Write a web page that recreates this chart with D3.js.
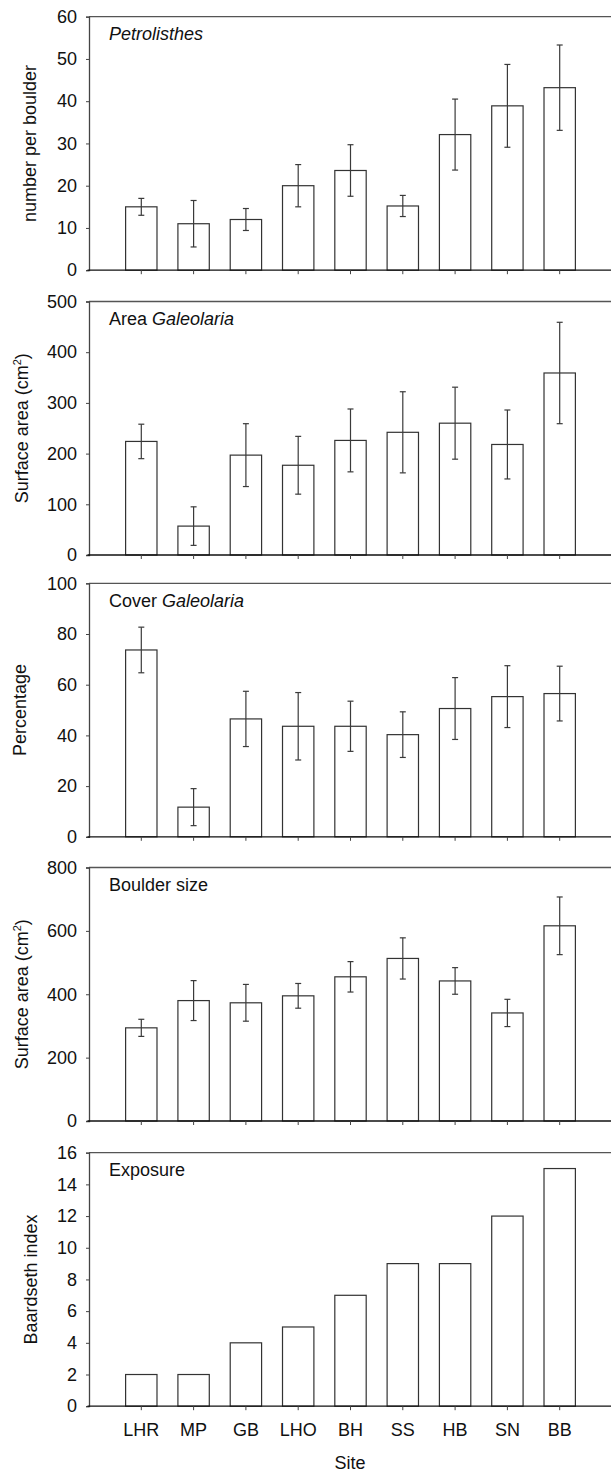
<!DOCTYPE html>
<html>
<head>
<meta charset="utf-8">
<script src="https://cdn.jsdelivr.net/npm/d3@7"></script>
<style>
  html, body { margin: 0; padding: 0; background: #fff; }
  svg { display: block; font-family: "Liberation Sans", Arial, sans-serif; }
</style>
</head>
<body>
<svg id="chart" width="611" height="1474"></svg>
<script>
const sites = ["LHR", "MP", "GB", "LHO", "BH", "SS", "HB", "SN", "BB"];

const petrolisthesMean = [15, 11, 12, 20, 23.6, 15.2, 32.1, 38.9, 43.2];
const petrolisthesErr  = [2, 5.5, 2.6, 5, 6.1, 2.5, 8.4, 9.8, 10.1];

const areaMean = [224, 57, 197, 177, 226, 242, 260, 218, 359];
const areaErr  = [34, 38, 62, 57, 62, 80, 71, 68, 100];

const coverMean = [73.7, 11.7, 46.5, 43.6, 43.6, 40.3, 50.6, 55.3, 56.5];
const coverErr  = [9, 7.3, 10.9, 13.3, 9.9, 9, 12.2, 12.2, 10.8];

const boulderMean = [294, 380, 373, 395, 455, 513, 442, 341, 616];
const boulderErr  = [27, 63, 58, 39, 48, 65, 42, 43, 91];

const exposure = [2, 2, 4, 5, 7, 9, 9, 12, 15];

const panels = [
  { values: petrolisthesMean, errors: petrolisthesErr, max: 60, step: 10,
    yTitle: "number per boulder", titleParts: [["Petrolisthes", true]], top: 16.7, titleX: 36 },
  { values: areaMean, errors: areaErr, max: 500, step: 100,
    yTitle: "cm2", titleParts: [["Area ", false], ["Galeolaria", true]], top: 301.5, titleX: 28 },
  { values: coverMean, errors: coverErr, max: 100, step: 20,
    yTitle: "Percentage", titleParts: [["Cover ", false], ["Galeolaria", true]], top: 583.3, titleX: 26 },
  { values: boulderMean, errors: boulderErr, max: 800, step: 200,
    yTitle: "cm2", titleParts: [["Boulder size", false]], top: 867.5, titleX: 28 },
  { values: exposure, errors: null, max: 16, step: 2,
    yTitle: "Baardseth index", titleParts: [["Exposure", false]], top: 1152.7, titleX: 37 }
];

const svg = d3.select("#chart");
const left = 89, right = 612, panelH = 253.5;
const fontSize = 18;

const x = d3.scaleBand()
  .domain(sites)
  .range([left + 26.15, right - 26.15])
  .paddingInner(0.4)
  .paddingOuter(0.2);

panels.forEach((p, pi) => {
  const top = p.top, bottom = top + panelH;
  const y = d3.scaleLinear().domain([0, p.max]).range([bottom, top]);
  const g = svg.append("g");

  // top frame line
  g.append("line").attr("x1", left).attr("x2", 611).attr("y1", top).attr("y2", top)
    .attr("stroke", "#555").attr("stroke-width", 1.3);

  // y axis
  const ticks = d3.range(0, p.max + p.step / 2, p.step);
  const yAxis = d3.axisLeft(y).tickValues(ticks).tickSize(3).tickPadding(9).tickFormat(d3.format("d"));
  const ya = g.append("g").attr("transform", `translate(${left},0)`).call(yAxis);
  ya.select(".domain").attr("stroke", "#444").attr("stroke-width", 1.3);
  ya.selectAll(".tick line").attr("stroke", "#444");
  ya.selectAll("text").attr("font-size", fontSize).attr("fill", "#111")
    .attr("font-family", "'Liberation Sans', Arial, sans-serif");

  // bars
  g.selectAll("rect.bar").data(p.values).enter().append("rect")
    .attr("class", "bar")
    .attr("x", (d, i) => x(sites[i]))
    .attr("width", x.bandwidth())
    .attr("y", d => y(d))
    .attr("height", d => bottom - y(d))
    .attr("fill", "#fff")
    .attr("stroke", "#333")
    .attr("stroke-width", 1.2);

  // error bars
  if (p.errors) {
    const eg = g.append("g").attr("stroke", "#3a3a3a").attr("stroke-width", 1.2);
    p.values.forEach((v, i) => {
      const cx = x(sites[i]) + x.bandwidth() / 2;
      const hi = y(v + p.errors[i]), lo = y(v - p.errors[i]);
      eg.append("line").attr("x1", cx).attr("x2", cx).attr("y1", hi).attr("y2", lo);
      eg.append("line").attr("x1", cx - 3).attr("x2", cx + 3).attr("y1", hi).attr("y2", hi);
      eg.append("line").attr("x1", cx - 3).attr("x2", cx + 3).attr("y1", lo).attr("y2", lo);
    });
  }

  // x axis
  g.append("line").attr("x1", left - 1.5).attr("x2", 611).attr("y1", bottom).attr("y2", bottom)
    .attr("stroke", "#111").attr("stroke-width", 1.3);
  const xAxis = d3.axisBottom(x).tickSize(4).tickPadding(13);
  const xa = g.append("g").attr("transform", `translate(0,${bottom})`).call(xAxis);
  xa.select(".domain").remove();
  xa.selectAll(".tick line").attr("stroke", "#444");
  if (pi === panels.length - 1) {
    xa.selectAll("text").attr("font-size", fontSize).attr("fill", "#111")
      .attr("font-family", "'Liberation Sans', Arial, sans-serif");
  } else {
    xa.selectAll("text").remove();
  }

  // panel title
  const t = g.append("text").attr("x", 109).attr("y", top + 23.5)
    .attr("font-size", fontSize).attr("fill", "#111");
  p.titleParts.forEach(([s, it]) => {
    t.append("tspan").text(s).attr("font-style", it ? "italic" : "normal");
  });

  // y title
  const yt = g.append("text")
    .attr("transform", `translate(${p.titleX},${(top + bottom) / 2}) rotate(-90)`)
    .attr("text-anchor", "middle")
    .attr("font-size", fontSize).attr("fill", "#111");
  if (p.yTitle === "cm2") {
    yt.append("tspan").text("Surface area (cm");
    yt.append("tspan").text("2").attr("font-size", 11).attr("dy", -7);
    yt.append("tspan").text(")").attr("dy", 7);
  } else {
    yt.text(p.yTitle);
  }
});

// x axis title
svg.append("text").attr("x", 350).attr("y", 1469)
  .attr("text-anchor", "middle").attr("font-size", fontSize).attr("fill", "#111")
  .text("Site");
</script>
</body>
</html>
